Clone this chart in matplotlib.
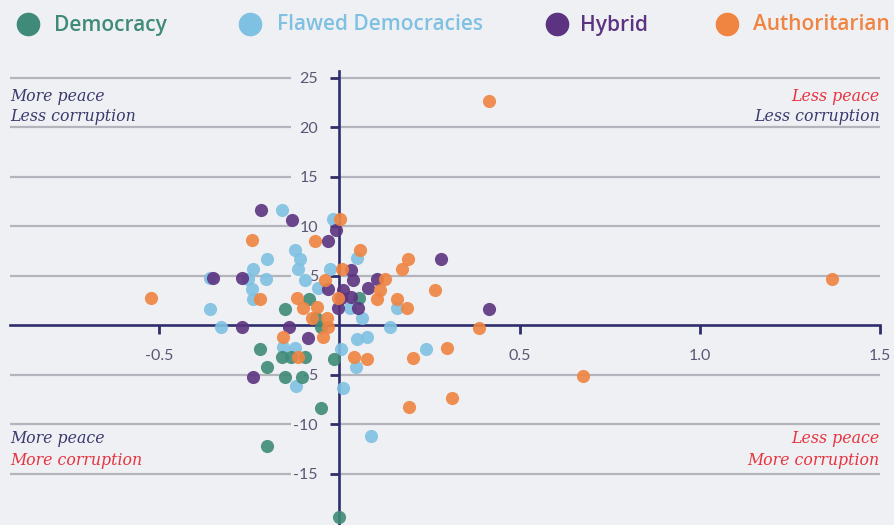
import matplotlib
matplotlib.use("Agg")
import matplotlib.pyplot as plt
from matplotlib.lines import Line2D

# ---------------- data (x: change in corruption score, y: change in peace score) ----------------
democracy_x = [0.00, -0.20, -0.05, -0.015, -0.22, -0.20, -0.16, -0.135, -0.096, -0.15, -0.104,
               -0.15, -0.085, -0.065, -0.05, 0.054]
democracy_y = [-19.4, -12.2, -8.4, -3.4, -2.4, -4.2, -3.2, -3.2, -3.2, -5.3, -5.3,
               1.6, 2.6, 0.7, -0.2, 2.7]

flawed_x = [-0.16, -0.018, -0.124, -0.11, -0.20, -0.24, -0.115, -0.026, 0.049, -0.36, -0.254,
            -0.204, -0.096, -0.243, -0.24, -0.06, -0.36, -0.33, 0.03, 0.063, 0.16, 0.14,
            0.05, 0.076, 0.004, -0.157, -0.124, 0.046, -0.12, 0.01, 0.088, 0.24]
flawed_y = [11.6, 10.7, 7.6, 6.7, 6.7, 5.7, 5.7, 5.7, 6.8, 4.7, 4.6,
            4.6, 4.5, 3.6, 2.6, 3.7, 1.6, -0.2, 1.7, 0.7, 1.7, -0.2,
            -1.4, -1.2, -2.4, -2.2, -2.3, -4.2, -6.2, -6.4, -11.2, -2.4]

hybrid_x = [-0.218, -0.132, -0.01, -0.032, 0.282, -0.35, -0.27, 0.032, 0.038, 0.104, -0.032,
            0.01, 0.079, 0.032, 0.004, -0.004, 0.051, 0.415, -0.27, -0.14, -0.088, -0.24]
hybrid_y = [11.6, 10.6, 9.6, 8.5, 6.7, 4.7, 4.7, 5.6, 4.5, 4.6, 3.6,
            3.5, 3.7, 2.8, 2.7, 1.7, 1.7, 1.6, -0.2, -0.2, -1.3, -5.3]

auth_x = [0.415, 1.368, 0.676, 0.313, 0.193, -0.524, -0.243, -0.068, 0.001, 0.057, 0.19,
          0.174, 0.007, -0.04, 0.126, 0.113, 0.265, 0.16, 0.104, 0.188, -0.22, -0.118,
          -0.004, -0.10, -0.063, -0.076, -0.035, -0.032, -0.157, -0.046, 0.04, 0.076,
          -0.115, 0.388, 0.30, 0.204]
auth_y = [22.6, 4.6, -5.2, -7.4, -8.3, 2.7, 8.6, 8.5, 10.7, 7.6, 6.7,
          5.7, 5.7, 4.5, 4.6, 3.5, 3.5, 2.6, 2.6, 1.7, 2.6, 2.7,
          2.7, 1.7, 1.8, 0.7, 0.7, -0.2, -1.2, -1.2, -3.2, -3.4,
          -3.2, -0.3, -2.3, -3.3]

categories = ["Democracy", "Flawed Democracies", "Hybrid", "Authoritarian"]
colors = ["#3f8a78", "#7fc1e3", "#5c3380", "#f08441"]

x_ticks = [-0.5, 0.5, 1.0, 1.5]
x_tick_labels = ["-0.5", "0.5", "1.0", "1.5"]
y_ticks = [-15, -10, -5, 5, 10, 15, 20, 25]
y_tick_labels = ["-15", "-10", "-5", "5", "10", "15", "20", "25"]

# ---------------- styling ----------------
BG = "#eff0f3"
NAVY = "#2f2e6c"
GRID = "#b4b4bc"
LABEL = "#5b5675"
RED = "#e6333f"
TXT_NAVY = "#3a3a6e"

fig = plt.figure(figsize=(8.95, 5.25), dpi=100, facecolor=BG)
ax = fig.add_axes([0, 0, 1, 1], facecolor=BG)
ax.set_xlim(-0.943, 1.543)
ax.set_ylim(-20.2, 32.83)

# gridlines (split around the y tick labels)
for yv in y_ticks:
    ax.plot([-0.915, -0.135], [yv, yv], color=GRID, lw=1.6, zorder=1, solid_capstyle="butt")
    ax.plot([0, 1.5], [yv, yv], color=GRID, lw=1.6, zorder=1, solid_capstyle="butt")

# axes lines through zero
for s in ["top", "right"]:
    ax.spines[s].set_visible(False)
ax.spines["left"].set_position(("data", 0))
ax.spines["bottom"].set_position(("data", 0))
ax.spines["left"].set_bounds(-20.2, 25.7)
ax.spines["bottom"].set_bounds(-0.915, 1.5)
for s in ["left", "bottom"]:
    ax.spines[s].set_color(NAVY)
    ax.spines[s].set_linewidth(1.9)
    ax.spines[s].set_zorder(2)

ax.set_xticks(x_ticks)
ax.set_xticklabels(x_tick_labels)
ax.set_yticks(y_ticks)
ax.set_yticklabels(y_tick_labels)
ax.tick_params(axis="both", direction="out", length=6.5, width=2.0, color=NAVY,
               labelcolor=LABEL, labelsize=11.5, pad=9)
ax.tick_params(axis="x", pad=10.5)
for lab in ax.get_xticklabels() + ax.get_yticklabels():
    lab.set_fontfamily(["Lato", "DejaVu Sans"])

# scatter points
series = [(democracy_x, democracy_y), (flawed_x, flawed_y), (hybrid_x, hybrid_y), (auth_x, auth_y)]
for (xs, ys), c, z in zip(series, colors, [4, 3, 5, 6]):
    ax.scatter(xs, ys, s=90, color=c, alpha=0.9, linewidths=0, zorder=z, clip_on=False)

# corner annotations
serif = dict(family=["DejaVu Serif"], style="italic", fontsize=11.3)
ax.text(-0.915, 23.1, "More peace", color=TXT_NAVY, ha="left", va="center", **serif)
ax.text(-0.915, 21.1, "Less corruption", color=TXT_NAVY, ha="left", va="center", **serif)
ax.text(1.5, 23.1, "Less peace", color=RED, ha="right", va="center", **serif)
ax.text(1.5, 21.1, "Less corruption", color=TXT_NAVY, ha="right", va="center", **serif)
ax.text(-0.915, -11.5, "More peace", color=TXT_NAVY, ha="left", va="center", **serif)
ax.text(-0.915, -13.7, "More corruption", color=RED, ha="left", va="center", **serif)
ax.text(1.5, -11.5, "Less peace", color=RED, ha="right", va="center", **serif)
ax.text(1.5, -13.7, "More corruption", color=RED, ha="right", va="center", **serif)

# legend (manual, along the top)
leg_marker_x = [28, 250, 557, 727]
leg_text_x = [54, 277, 580, 753]
for cat, c, mx, tx in zip(categories, colors, leg_marker_x, leg_text_x):
    fig.add_artist(Line2D([mx / 895], [1 - 24 / 525], marker="o", markersize=16,
                          color=c, linestyle="none", transform=fig.transFigure))
    fig.text(tx / 895, 1 - 25 / 525, cat, color=c, fontsize=15, fontweight="semibold",
             family=["Open Sans", "DejaVu Sans"], ha="left", va="center")

fig.savefig("out.png", dpi=100, facecolor=BG)
